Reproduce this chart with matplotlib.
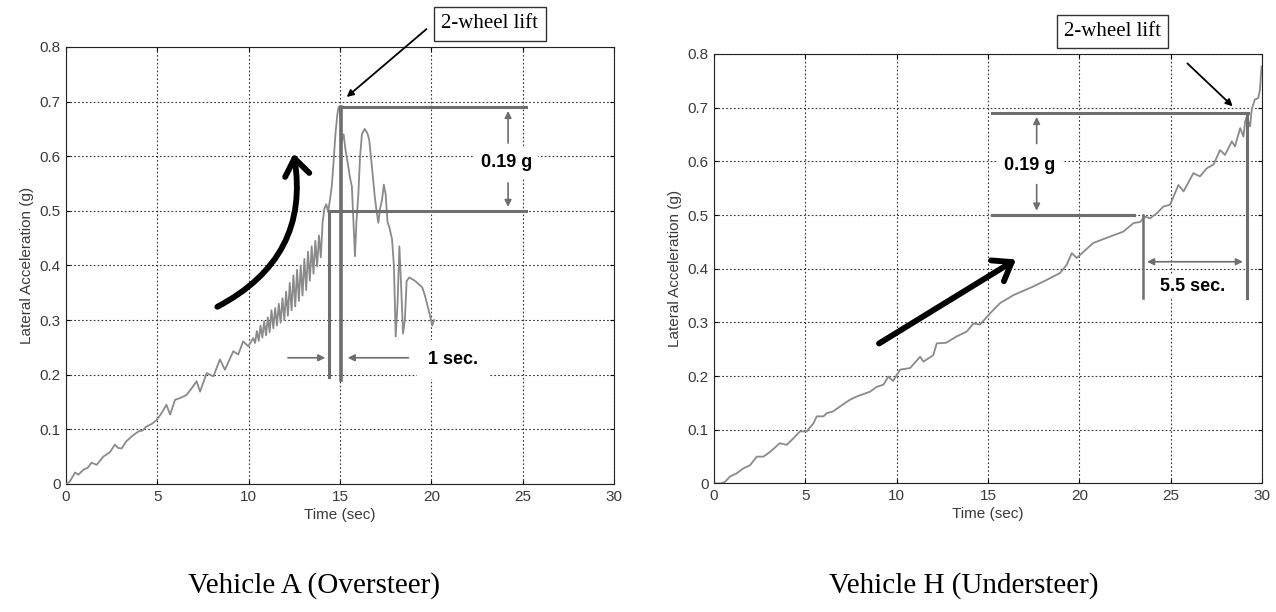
import matplotlib
matplotlib.use('Agg')
import matplotlib.pyplot as plt
from matplotlib.patches import FancyArrowPatch

# Vehicle A (oversteer) - lateral acceleration trace
time_a = [0.0, 0.2, 0.5, 0.68, 0.95, 1.2, 1.4, 1.68, 2.04, 2.4, 2.68, 2.85, 3.05, 3.3, 3.6,
          3.96, 4.2, 4.4, 4.7, 4.96, 5.2, 5.5, 5.7, 5.97, 6.3, 6.6, 6.9, 7.15, 7.34, 7.7,
          8.07, 8.43, 8.7, 9.16, 9.43, 9.7, 9.98, 10.25, 10.35, 10.45, 10.55, 10.65, 10.75,
          10.85, 10.95, 11.05, 11.15, 11.25, 11.35, 11.45, 11.55, 11.65, 11.75, 11.85, 11.95,
          12.05, 12.15, 12.25, 12.35, 12.45, 12.55, 12.65, 12.75, 12.85, 12.95, 13.05, 13.15,
          13.25, 13.35, 13.45, 13.55, 13.65, 13.75, 13.85, 13.95, 14.05, 14.15, 14.25, 14.35,
          14.45, 14.55, 14.65, 14.75, 14.85, 14.92, 15.0, 15.1, 15.2, 15.3, 15.45, 15.55,
          15.65, 15.75, 15.82, 15.9, 16.0, 16.1, 16.2, 16.35, 16.5, 16.6, 16.75, 16.9, 17.0,
          17.1, 17.2, 17.3, 17.4, 17.5, 17.6, 17.7, 17.85, 17.95, 18.05, 18.15, 18.25, 18.35,
          18.45, 18.55, 18.65, 18.8, 18.95, 19.1, 19.3, 19.5, 19.65, 19.8, 19.95, 20.05, 20.15]
lat_a = [0.0, 0.004, 0.021, 0.017, 0.026, 0.030, 0.039, 0.035, 0.050, 0.058, 0.072, 0.066,
         0.065, 0.078, 0.087, 0.096, 0.098, 0.105, 0.110, 0.117, 0.128, 0.145, 0.127, 0.154,
         0.158, 0.163, 0.176, 0.188, 0.169, 0.203, 0.197, 0.228, 0.209, 0.243, 0.237, 0.261,
         0.252, 0.267, 0.258, 0.280, 0.262, 0.290, 0.268, 0.298, 0.272, 0.305, 0.278, 0.318,
         0.285, 0.322, 0.290, 0.330, 0.295, 0.340, 0.300, 0.352, 0.308, 0.368, 0.318, 0.382,
         0.325, 0.392, 0.335, 0.400, 0.345, 0.412, 0.355, 0.425, 0.372, 0.435, 0.385, 0.445,
         0.398, 0.455, 0.415, 0.480, 0.505, 0.512, 0.498, 0.520, 0.545, 0.590, 0.640, 0.675,
         0.690, 0.685, 0.628, 0.640, 0.612, 0.582, 0.560, 0.545, 0.470, 0.417, 0.480, 0.527,
         0.600, 0.640, 0.650, 0.642, 0.630, 0.580, 0.527, 0.500, 0.478, 0.505, 0.520, 0.548,
         0.530, 0.480, 0.470, 0.448, 0.400, 0.270, 0.330, 0.435, 0.360, 0.275, 0.300, 0.372,
         0.378, 0.375, 0.372, 0.366, 0.360, 0.345, 0.325, 0.305, 0.290, 0.300]

# Vehicle H (understeer)
time_h = [0.0, 0.33, 0.6, 0.88, 1.24, 1.6, 1.97, 2.34, 2.7, 3.07, 3.6, 3.98, 4.34, 4.7, 5.07,
          5.44, 5.62, 5.99, 6.17, 6.5, 7.26, 7.45, 7.81, 8.54, 8.9, 9.27, 9.54, 9.8, 10.18,
          10.73, 11.28, 11.46, 12.0, 12.19, 12.7, 13.29, 13.83, 14.2, 14.56, 15.11, 15.66,
          16.4, 17.48, 18.2, 18.94, 19.3, 19.58, 19.85, 20.76, 21.68, 22.4, 22.96, 23.32,
          23.6, 23.87, 24.23, 24.6, 24.96, 25.42, 25.7, 26.24, 26.6, 26.97, 27.34, 27.7,
          27.97, 28.34, 28.52, 28.8, 28.98, 29.07, 29.16, 29.34, 29.43, 29.6, 29.79, 29.88,
          29.97]
lat_h = [0.0, 0.0, 0.003, 0.013, 0.019, 0.028, 0.034, 0.050, 0.050, 0.059, 0.075, 0.072,
         0.084, 0.097, 0.097, 0.112, 0.125, 0.125, 0.131, 0.134, 0.152, 0.156, 0.162, 0.171,
         0.180, 0.184, 0.199, 0.191, 0.212, 0.215, 0.236, 0.227, 0.239, 0.261, 0.262, 0.274,
         0.283, 0.298, 0.296, 0.317, 0.336, 0.351, 0.367, 0.379, 0.392, 0.407, 0.429, 0.420,
         0.448, 0.460, 0.469, 0.485, 0.487, 0.497, 0.494, 0.503, 0.516, 0.519, 0.556, 0.544,
         0.578, 0.572, 0.587, 0.594, 0.621, 0.612, 0.637, 0.628, 0.662, 0.646, 0.674, 0.683,
         0.665, 0.696, 0.715, 0.718, 0.733, 0.777]

x_ticks = [0, 5, 10, 15, 20, 25, 30]
y_ticks = [0, 0.1, 0.2, 0.3, 0.4, 0.5, 0.6, 0.7, 0.8]
y_tick_labels = ['0', '0.1', '0.2', '0.3', '0.4', '0.5', '0.6', '0.7', '0.8']

GRAY = '#8a8a8a'
MARK = '#6e6e6e'
TXT = '#3a3a3a'
SANS = 'Liberation Sans'


def setup(ax):
    ax.set_xlim(0, 30)
    ax.set_ylim(0, 0.8)
    ax.set_xticks(x_ticks)
    ax.set_xticklabels([str(v) for v in x_ticks])
    ax.set_yticks(y_ticks)
    ax.set_yticklabels(y_tick_labels)
    ax.grid(True, linestyle=(0, (1.5, 2)), color='#333333', linewidth=0.8)
    ax.tick_params(direction='in', length=3, top=True, right=True, labelsize=11,
                   labelcolor=TXT, pad=4)
    for lab in ax.get_xticklabels() + ax.get_yticklabels():
        lab.set_family(SANS)
    for s in ax.spines.values():
        s.set_color('#222222')
        s.set_linewidth(0.8)
    ax.set_xlabel('Time (sec)', family=SANS, fontsize=11, color=TXT, labelpad=3)
    ax.set_ylabel('Lateral Acceleration (g)', family=SANS, fontsize=11, color=TXT, labelpad=4)


def thick_arrow(ax, start, end, rad):
    a = FancyArrowPatch(start, end, connectionstyle='arc3,rad=%s' % rad,
                        arrowstyle='->,head_length=0.55,head_width=0.4',
                        mutation_scale=22, lw=4.2, color='black', zorder=6)
    ax.add_patch(a)


def main():
    fig = plt.figure(figsize=(12.76, 6.12), dpi=100)
    ax1 = fig.add_axes([0.0517, 0.2092, 0.4295, 0.7141])
    ax2 = fig.add_axes([0.5596, 0.2100, 0.4295, 0.7018])

    # ---- Vehicle A ----
    setup(ax1)
    ax1.plot(time_a, lat_a, color=GRAY, lw=1.3, zorder=3)
    ax1.plot([15.0, 25.2], [0.69, 0.69], color=MARK, lw=2.2, zorder=4)
    ax1.plot([14.55, 25.2], [0.50, 0.50], color=MARK, lw=2.2, zorder=4)
    ax1.plot([14.41, 14.41], [0.50, 0.195], color=MARK, lw=2.2, zorder=4)
    ax1.plot([15.05, 15.05], [0.69, 0.19], color=MARK, lw=2.6, zorder=4)
    ax1.annotate('', xy=(24.2, 0.688), xytext=(24.2, 0.619),
                 arrowprops=dict(arrowstyle='-|>', color=MARK, lw=1.2))
    ax1.annotate('', xy=(24.2, 0.502), xytext=(24.2, 0.556),
                 arrowprops=dict(arrowstyle='-|>', color=MARK, lw=1.2))
    ax1.text(24.1, 0.588, '0.19 g', family=SANS, fontsize=13, fontweight='bold',
             ha='center', va='center', zorder=7,
             bbox=dict(boxstyle='square,pad=0.35', fc='white', ec='none'))
    ax1.annotate('', xy=(14.35, 0.231), xytext=(12.0, 0.231),
                 arrowprops=dict(arrowstyle='-|>', color=MARK, lw=1.2))
    ax1.annotate('', xy=(15.27, 0.231), xytext=(18.9, 0.231),
                 arrowprops=dict(arrowstyle='-|>', color=MARK, lw=1.2))
    ax1.text(21.2, 0.228, '1 sec.', family=SANS, fontsize=13, fontweight='bold',
             ha='center', va='center', zorder=7,
             bbox=dict(boxstyle='square,pad=0.6', fc='white', ec='none'))
    ax1.text(23.2, 0.842, '2-wheel lift', family='Liberation Serif', fontsize=15,
             ha='center', va='center', clip_on=False,
             bbox=dict(boxstyle='square,pad=0.35', fc='white', ec='#333333', lw=1.0))
    ax1.annotate('', xy=(15.25, 0.705), xytext=(19.85, 0.836),
                 arrowprops=dict(arrowstyle='-|>', color='black', lw=1.3),
                 annotation_clip=False)
    thick_arrow(ax1, (8.15, 0.322), (12.44, 0.61), 0.37)

    # ---- Vehicle H ----
    setup(ax2)
    ax2.plot(time_h, lat_h, color=GRAY, lw=1.3, zorder=3)
    ax2.plot([15.2, 29.25], [0.69, 0.69], color=MARK, lw=2.2, zorder=4)
    ax2.plot([15.2, 23.0], [0.50, 0.50], color=MARK, lw=2.2, zorder=4)
    ax2.plot([23.5, 23.5], [0.50, 0.345], color=MARK, lw=1.8, zorder=4)
    ax2.plot([29.15, 29.15], [0.69, 0.345], color=MARK, lw=2.2, zorder=4)
    ax2.annotate('', xy=(17.66, 0.688), xytext=(17.66, 0.628),
                 arrowprops=dict(arrowstyle='-|>', color=MARK, lw=1.2))
    ax2.annotate('', xy=(17.66, 0.503), xytext=(17.66, 0.562),
                 arrowprops=dict(arrowstyle='-|>', color=MARK, lw=1.2))
    ax2.text(17.3, 0.592, '0.19 g', family=SANS, fontsize=13, fontweight='bold',
             ha='center', va='center', zorder=7,
             bbox=dict(boxstyle='square,pad=0.35', fc='white', ec='none'))
    ax2.annotate('', xy=(23.55, 0.413), xytext=(29.1, 0.413),
                 arrowprops=dict(arrowstyle='<|-|>', color=MARK, lw=1.2))
    ax2.text(26.2, 0.367, '5.5 sec.', family=SANS, fontsize=13, fontweight='bold',
             ha='center', va='center', zorder=7,
             bbox=dict(boxstyle='square,pad=0.2', fc='white', ec='none'))
    ax2.text(21.8, 0.842, '2-wheel lift', family='Liberation Serif', fontsize=15,
             ha='center', va='center', clip_on=False,
             bbox=dict(boxstyle='square,pad=0.35', fc='white', ec='#333333', lw=1.0))
    ax2.annotate('', xy=(28.5, 0.699), xytext=(25.8, 0.786),
                 arrowprops=dict(arrowstyle='-|>', color='black', lw=1.3),
                 annotation_clip=False)
    thick_arrow(ax2, (8.9, 0.258), (16.66, 0.42), 0.0)

    fig.text(0.246, 0.044, 'Vehicle A (Oversteer)', family='Liberation Serif',
             fontsize=21, ha='center', va='center')
    fig.text(0.755, 0.044, 'Vehicle H (Understeer)', family='Liberation Serif',
             fontsize=21, ha='center', va='center')

    fig.savefig('out.png', dpi=100, facecolor='white')


if __name__ == '__main__':
    main()
